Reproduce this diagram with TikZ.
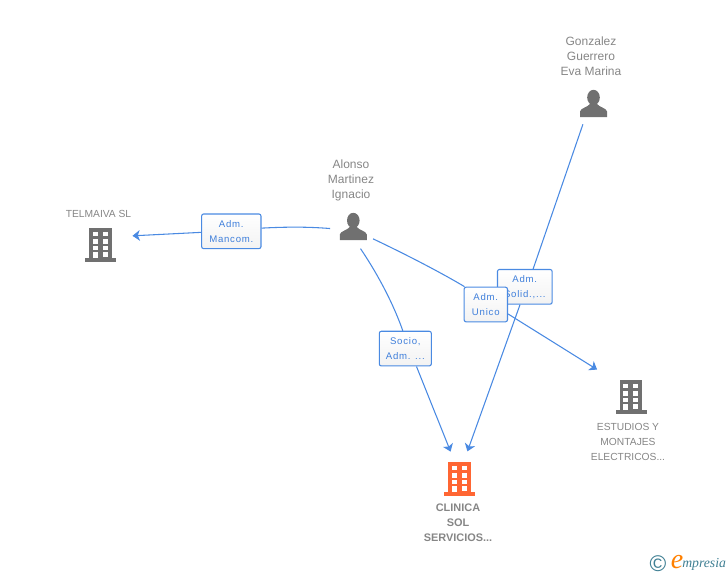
\documentclass[tikz,border=0pt]{standalone}
\usepackage{fontspec}
\setmainfont{Liberation Sans}
\newfontfamily\tagfont[LetterSpace=8]{Liberation Sans}
\newfontfamily\markfont{Liberation Serif}
\usetikzlibrary{arrows.meta}
\definecolor{linkblue}{HTML}{4A8AE2}
\definecolor{tagblue}{HTML}{3F7FDB}
\definecolor{icongray}{HTML}{707070}
\definecolor{textgray}{HTML}{868686}
\definecolor{firmorange}{HTML}{FF6633}
\definecolor{markteal}{HTML}{3F7F93}
\begin{document}
\begin{tikzpicture}[x=0.75pt,y=-0.75pt,>={Stealth[length=5.5pt,width=8pt,inset=1.5pt]},
  hub/.style={circle,inner sep=0pt,minimum size=#1},
  tagbox/.style={draw=linkblue,line width=0.8pt,rounded corners=1.5pt,top color=white,bottom color=black!5,
    inner sep=0pt,align=center,text=tagblue,minimum width=#1,minimum height=26pt,
    font=\tagfont\fontsize{7.2}{11.25}\selectfont},
  person name/.style={align=center,text=textgray,font=\fontsize{9}{11.25}\selectfont},
  firm name/.style={align=center,text=textgray,font=\fontsize{7.7}{11.25}\selectfont},
  link/.style={linkblue,line width=0.8pt},
  pics/person/.style={code={
    \fill[icongray] (0,-6) ellipse (6.3 and 7.7);
    \fill[icongray] (-13.5,13.7) -- (-13.5,8) .. controls (-13,4.5) and (-6,4) .. (-3,0)
      -- (3,0) .. controls (6,4) and (13,4.5) .. (13.5,8) -- (13.5,13.7) -- cycle;
  }},
  pics/building/.style={code={
    \fill[#1] (-11.3,-16.7) rectangle (11.3,13.3);
    \fill[#1] (-15.5,13.3) rectangle (15.5,16.7);
    \foreach \y in {-13.3,-6.2,0.6} {
      \fill[white] (-7.8,\y) rectangle ++(5,4.7);
      \fill[white] (2.4,\y) rectangle ++(5,4.7);
    }
    \fill[white] (-7.8,6.7) rectangle (-2.8,13.3);
    \fill[white] (2.4,6.7) rectangle (7.4,11.5);
  }}]
  \useasboundingbox (0,0) rectangle (728,575);

  % people and firms
  \node[hub=34.5pt] (alonso) at (353.3,226.5) {};
  \node[hub=34.5pt] (gonzalez) at (593.5,103.5) {};
  \node[hub=49.5pt] (telmaiva) at (100.5,245) {};
  \node[hub=42.75pt] (clinica) at (459.5,479) {};
  \node[hub=65pt] (estudios) at (631,397) {};

  \foreach \who in {alonso,gonzalez} {
      \pic at (\who) {person};
  }
  \foreach \firm in {telmaiva,estudios} {
      \pic at (\firm) {building=icongray};
  }
  \pic at (clinica) {building=firmorange};

  \node[person name] (alonsoname) at (351,180) {Alonso\\Martinez\\Ignacio};
  \node[person name] (gonzalezname) at (591,56) {Gonzalez\\Guerrero\\Eva Marina};
  \node[firm name] (telmaivaname) at (98.5,214) {TELMAIVA SL};
  \node[firm name] (estudiosname) at (628,441.5) {ESTUDIOS Y\\MONTAJES\\ELECTRICOS...};
  \node[firm name,font=\bfseries\fontsize{8.2}{11.25}\selectfont] (clinicaname) at (458,523) {CLINICA\\SOL\\SERVICIOS...};

  % role tags
  \node[tagbox=44.5pt] (mancom) at (231.3,231.3) {Adm.\\Mancom.};
  \node[tagbox=39pt] (socio) at (405.3,348.6) {Socio,\\Adm. ...};
  \node[tagbox=41pt] (solid) at (524.8,286.8) {Adm.\\Solid.,...};
  \node[tagbox=32.5pt] (unico) at (485.8,304.5) {Adm.\\Unico};

  % links from the people
  \draw[link] (alonso.185) .. controls (305,226.5) and (283,227) .. (mancom.6);
  \draw[link,->] (mancom.182) -- (telmaiva.16);
  \draw[link] (alonso.288) .. controls (375,270) and (392,300) .. (socio.98);
  \draw[link] (alonso.-32) .. controls (405,254) and (440,272) .. (unico.140);
  \draw[link,->] (socio.302) -- (clinica.108);
  \draw[link,->] (unico.337) -- (estudios.141.5);
  \draw[link] (gonzalez.243) -- (solid.65);
  \draw[link,->] (solid.255) -- (clinica.74);

  % logo
  \node[text=markteal,font=\fontsize{17}{17}\selectfont] (markc) at (658,564) {©};
  \node[text=orange,font=\markfont\itshape\fontsize{21}{21}\selectfont] (marke) at (677,562) {e};
  \node[text=markteal,anchor=west,inner sep=0pt,font=\markfont\itshape\fontsize{10.3}{10.3}\selectfont] (markrest) at (682,564.5) {mpresia};
\end{tikzpicture}
\end{document}
